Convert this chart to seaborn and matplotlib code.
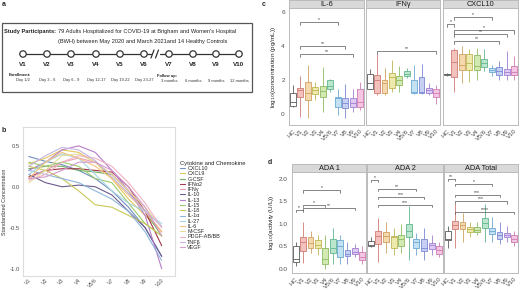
import numpy as np
import pandas as pd
import matplotlib
matplotlib.use("Agg")
import matplotlib.pyplot as plt
import seaborn as sns
from matplotlib.patches import Rectangle, Circle

sns.set_theme(style="white")
plt.rcParams['font.family'] = ['Liberation Sans', 'DejaVu Sans']

# ---------------- data ----------------
visits_b = ["V1", "V2", "V3", "V4", "V5/6", "V7", "V8", "V9", "V10"]
cytokines = ["CXCL10", "CXCL9", "G-CSF", "IFNα2", "IFNγ", "IL-10", "IL-13", "IL-15",
             "IL-18", "IL-1α", "IL-27", "IL-6", "M-CSF", "PDGF-AB/BB", "TNFβ", "VEGF"]
cyto_colors = ["#6F8FBF", "#E3C65C", "#6FAF5F", "#A3374B", "#E79FB4", "#6B5B8C", "#B77CC9",
               "#9ACB6B", "#C9C85A", "#8CB5DB", "#A6D5E0", "#F2C27E", "#E6DC9A", "#F0B3C3",
               "#C4B5E3", "#D59BCF"]
cxcl10_b = [0.37, 0.31, 0.27, 0.20, 0.10, -0.05, -0.25, -0.50, -0.85]
cxcl9_b = [0.28, 0.35, 0.45, 0.42, 0.30, 0.10, -0.15, -0.35, -0.55]
gcsf_b = [0.22, 0.25, 0.25, 0.20, 0.18, 0.15, -0.05, -0.30, -0.60]
ifna2_b = [0.12, 0.20, 0.22, 0.22, 0.20, 0.18, 0.00, -0.30, -0.72]
ifng_b = [0.10, 0.20, 0.30, 0.35, 0.30, 0.15, -0.05, -0.30, -0.55]
il10_b = [0.15, 0.05, 0.00, 0.02, 0.00, -0.10, -0.30, -0.50, -0.85]
il13_b = [0.20, 0.30, 0.45, 0.50, 0.42, 0.20, -0.05, -0.35, -1.00]
il15_b = [0.30, 0.25, 0.30, 0.25, 0.10, 0.05, -0.20, -0.45, -0.60]
il18_b = [0.25, 0.20, 0.10, -0.05, -0.22, -0.25, -0.35, -0.45, -0.60]
il1a_b = [0.20, 0.15, 0.10, 0.05, -0.05, -0.15, -0.30, -0.55, -0.90]
il27_b = [0.15, 0.30, 0.40, 0.35, 0.15, -0.05, -0.20, -0.30, -0.45]
il6_b = [0.10, 0.30, 0.42, 0.35, 0.25, 0.10, -0.10, -0.30, -0.55]
mcsf_b = [0.05, 0.20, 0.38, 0.40, 0.30, 0.15, -0.05, -0.25, -0.50]
pdgf_b = [0.08, 0.15, 0.30, 0.38, 0.35, 0.25, 0.05, -0.20, -0.50]
tnfb_b = [0.25, 0.38, 0.48, 0.45, 0.32, 0.12, -0.08, -0.30, -0.48]
vegf_b = [0.10, 0.12, 0.20, 0.30, 0.30, 0.20, 0.00, -0.25, -0.60]
series_b = [cxcl10_b, cxcl9_b, gcsf_b, ifna2_b, ifng_b, il10_b, il13_b, il15_b, il18_b,
            il1a_b, il27_b, il6_b, mcsf_b, pdgf_b, tnfb_b, vegf_b]

groups = ["HC", "V1", "V2", "V3", "V4", "V5/6", "V7", "V8", "V9", "V10"]
fills = ["#FFFFFF", "#F4C2BC", "#F5D9AE", "#EEEAAE", "#D2EAB2", "#B9E6CD",
         "#C3E1F3", "#C7D0F3", "#DDCBF3", "#F4C6E2"]
edges = ["#5A5A5A", "#CF7A72", "#CFA060", "#BDB553", "#8DBA60", "#62B58E",
         "#6BA8D3", "#7A88D2", "#A07FD2", "#D07AB2"]

# five-number summaries per group: [low whisker, Q1, median, Q3, high whisker]
il6_c = [[0.42, 0.47, 0.72, 1.2, 1.7], [-0.2, 1.0, 1.4, 1.55, 2.2], [-0.25, 0.81, 1.2, 1.88, 2.85],
         [0.8, 1.16, 1.4, 1.59, 1.88], [0.14, 1.0, 1.34, 1.63, 2.76], [1.3, 1.44, 1.63, 1.98, 2.08],
         [-0.06, 0.39, 0.95, 1.01, 1.49], [-0.25, 0.33, 0.62, 0.91, 1.78], [0.14, 0.43, 0.66, 0.91, 1.49],
         [0.23, 0.43, 0.72, 1.49, 1.88]]
ifng_c = [[1.44, 1.49, 1.84, 2.33, 2.66], [1.1, 1.2, 1.98, 2.27, 3.5], [1.1, 1.2, 1.79, 2.02, 2.7],
          [1.3, 1.55, 2.14, 2.41, 3.14], [1.3, 1.69, 1.98, 2.21, 2.8], [2.1, 2.21, 2.37, 2.5, 2.7],
          [1.15, 1.2, 1.3, 1.98, 2.85], [1.15, 1.2, 1.3, 2.14, 2.95], [1.1, 1.2, 1.4, 1.55, 1.8],
          [0.6, 1.01, 1.2, 1.49, 1.7]]
cxcl10_c = [[2.25, 2.3, 2.33, 2.36, 2.4], [1.3, 2.17, 3.05, 3.77, 3.9], [1.8, 2.56, 2.85, 3.53, 4.0],
            [1.9, 2.56, 2.99, 3.53, 3.8], [2.0, 2.6, 2.8, 3.47, 3.9], [2.5, 2.76, 2.99, 3.24, 3.8],
            [2.2, 2.47, 2.56, 2.70, 2.85], [2.0, 2.27, 2.5, 2.76, 3.1], [2.0, 2.3, 2.45, 2.66, 3.7],
            [2.0, 2.27, 2.45, 2.8, 3.4]]
ada1_d = [[0.05, 0.15, 0.22, 0.5, 0.6], [0.12, 0.4, 0.6, 0.7, 1.05], [0.35, 0.47, 0.58, 0.7, 0.85],
          [0.3, 0.47, 0.53, 0.63, 0.75], [0.0, 0.1, 0.22, 0.47, 0.75], [0.1, 0.35, 0.47, 0.65, 0.9],
          [0.1, 0.25, 0.5, 0.63, 0.75], [0.1, 0.28, 0.33, 0.42, 0.6], [0.25, 0.33, 0.38, 0.45, 0.55],
          [0.1, 0.18, 0.26, 0.36, 0.5]]
ada2_d = [[0.48, 0.5, 0.52, 0.62, 0.7], [0.15, 0.56, 0.72, 0.85, 1.12], [0.35, 0.6, 0.72, 0.82, 1.05],
          [0.3, 0.47, 0.7, 0.73, 0.9], [0.35, 0.5, 0.65, 0.75, 1.0], [0.2, 0.7, 0.85, 1.0, 1.4],
          [0.3, 0.47, 0.6, 0.67, 0.8], [0.2, 0.4, 0.46, 0.66, 0.9], [0.3, 0.43, 0.52, 0.58, 0.75],
          [0.25, 0.33, 0.41, 0.5, 0.6]]
adat_d = [[0.45, 0.63, 0.67, 0.85, 0.95], [0.45, 0.88, 0.98, 1.07, 1.45], [0.6, 0.88, 0.98, 1.05, 1.25],
          [0.7, 0.82, 0.88, 0.94, 1.05], [0.75, 0.82, 0.86, 0.93, 1.05], [0.6, 0.9, 1.01, 1.12, 1.45],
          [0.6, 0.77, 0.85, 0.9, 1.15], [0.55, 0.67, 0.75, 0.82, 1.05], [0.6, 0.7, 0.75, 0.8, 0.95],
          [0.5, 0.6, 0.66, 0.75, 0.85]]

il6_br = [("V1", "V7", 5.4, "*"), ("V1", "V8", 4.0, "**"), ("V1", "V9", 3.5, "**")]
ifng_br = [("V1", "V10", 3.7, "**")]
cxcl10_br = [("V1", "V7", 5.7, "*"), ("HC", "V1", 5.3, "*"), ("V1", "V10", 4.9, "*"),
             ("V1", "V9", 4.7, "**"), ("V1", "V8", 4.3, "**")]
ada1_br = [("V1", "V7", 1.75, "*"), ("V1", "V4", 1.42, "*"), ("HC", "V1", 1.31, "*"), ("V1", "V9", 1.35, "**")]
ada2_br = [("HC", "V1", 1.98, "*"), ("V1", "V7", 1.78, "**"), ("V1", "V8", 1.61, "***"), ("V1", "V9", 1.42, "***")]
adat_br = [("HC", "V1", 2.0, "**"), ("V1", "V7", 1.9, "*"), ("V1", "V8", 1.65, "***"),
           ("V1", "V9", 1.5, "***"), ("V1", "V10", 1.26, "****")]

# timeline (panel a)
tl_visits = ["V1", "V2", "V3", "V4", "V5", "V6", "V7", "V8", "V9", "V10"]
tl_days = ["Day 1/2", "Day 3 - 6", "Day 6 - 9", "Day 12-17", "Day 19-22", "Day 23-27",
           "3 months", "6 months", "9 months", "12 months"]

# ---------------- figure ----------------
W, H = 520, 290
fig = plt.figure(figsize=(5.2, 2.9), dpi=100)

def ax_px(x0, y0, x1, y1):
    return fig.add_axes([x0 / W, 1 - y1 / H, (x1 - x0) / W, (y1 - y0) / H])

# overlay for panel a and letters
ov = fig.add_axes([0, 0, 1, 1])
ov.set_xlim(0, W)
ov.set_ylim(H, 0)
ov.axis("off")
for lab, (x, y) in zip("abcd", [(2, 5), (2, 131), (262, 4), (268, 163)]):
    ov.text(x, y, lab, fontsize=5, fontweight="bold", va="center", ha="left")

ov.add_patch(Rectangle((2, 23), 250, 69, fill=False, ec="#555555", lw=0.9))
ov.text(4, 32, "Study Participants:", fontsize=4.1, fontweight="bold", va="center", ha="left", color="#222")
ov.text(58.5, 32, "79 Adults Hospitalized for COVID-19 at Brigham and Women's Hospital",
        fontsize=4.1, va="center", ha="left", color="#222")
ov.text(58.5, 41, "(BWH) between May 2020 and March 2021and 14 Healthy Controls",
        fontsize=4.1, va="center", ha="left", color="#222")
tl_x = [23, 47, 71, 96, 120, 144, 169, 193, 216, 239]
ty = 54
ov.plot([tl_x[0], 151], [ty, ty], color="#333", lw=0.9, zorder=1)
ov.plot([160, tl_x[-1]], [ty, ty], color="#333", lw=0.9, zorder=1)
for sx in (152.5, 157):
    ov.plot([sx - 1.5, sx + 1.5], [ty + 4, ty - 4], color="#333", lw=0.9)
for x, v, d in zip(tl_x, tl_visits, tl_days):
    ov.add_patch(Circle((x, ty), 3.2, fc="white", ec="#333", lw=0.9, zorder=3))
    ov.text(x, 65, v, fontsize=4.5, fontweight="bold", ha="center", va="center", color="#222")
    ov.text(x, 80.5, d, fontsize=2.9, ha="center", va="center", color="#333")
ov.text(9, 75.5, "Enrollment:", fontsize=2.9, fontweight="bold", ha="left", va="center", color="#222")
ov.text(157, 75.5, "Follow up:", fontsize=2.9, fontweight="bold", ha="left", va="center", color="#222")

# ---------------- panel b ----------------
axb = ax_px(23, 127, 175, 276)
rows = []
for name, vals in zip(cytokines, series_b):
    for i, (v, val) in enumerate(zip(visits_b, vals)):
        rows.append({"Cytokine": name, "visit": v, "pos": i, "value": val})
dfb = pd.DataFrame(rows)
sns.lineplot(data=dfb, x="pos", y="value", hue="Cytokine", hue_order=cytokines,
             palette=cyto_colors, linewidth=0.8, ax=axb)
axb.set_xlim(-0.35, 8.8)
axb.set_ylim(-1.09, 0.73)
axb.set_xticks(range(len(visits_b)))
axb.set_xticklabels(visits_b, rotation=45, ha="right", rotation_mode="anchor")
axb.set_yticks([-1.0, -0.5, 0.0, 0.5])
axb.set_yticklabels(["-1.0", "-0.5", "0.0", "0.5"])
axb.tick_params(labelsize=4.2, colors="#4D4D4D", length=0, pad=2)
axb.tick_params(axis="x", labelsize=3.8, pad=1)
axb.set_xlabel("")
axb.set_ylabel("Standardized Concentration", fontsize=3.8, color="#333", labelpad=2)
for s in axb.spines.values():
    s.set_color("#DDDDDD")
    s.set_linewidth(0.8)
h, l = axb.get_legend_handles_labels()
axb.legend(h, l, title="Cytokine and Chemokine", loc="upper left",
           bbox_to_anchor=(177 / W, 1 - 158 / H), bbox_transform=fig.transFigure,
           frameon=False, fontsize=3.9, title_fontsize=4.2, handlelength=0.9,
           handletextpad=0.5, labelspacing=0.05, borderpad=0, alignment="left")

# ---------------- panels c & d ----------------
def facet_row(names, datasets, brackets, xedges, y0, y1, strip_h, ylim, yticks, yticklabels, ylabel, tick_h):
    for k, (name, data, br) in enumerate(zip(names, datasets, brackets)):
        x0, x1 = xedges[k]
        ax = ax_px(x0, y0, x1, y1)
        for g, vals, fc, ec in zip(groups, data, fills, edges):
            d = pd.DataFrame({"group": [g] * len(vals), "value": vals})
            sns.boxplot(data=d, x="group", y="value", order=groups, color=fc, linecolor=ec,
                        saturation=1, linewidth=0.6, width=0.8, whis=(0, 100),
                        showcaps=False, fliersize=0, ax=ax)
        for g1, g2, yv, lab in br:
            i1, i2 = groups.index(g1), groups.index(g2)
            ax.plot([i1, i1, i2, i2], [yv - tick_h, yv, yv, yv - tick_h], color="#555555", lw=0.5)
            ax.text((i1 + i2) / 2, yv, lab, ha="center", va="bottom", fontsize=3.6, color="#333")
        ax.set_xlim(-0.5, 9.5)
        ax.set_ylim(*ylim)
        ax.set_xticks(range(len(groups)))
        ax.set_xticklabels(groups, rotation=45, ha="right", rotation_mode="anchor")
        ax.set_yticks(yticks)
        ax.set_xlabel("")
        if k == 0:
            ax.set_yticklabels(yticklabels)
            ax.set_ylabel(ylabel, fontsize=4.6, color="#222", labelpad=2)
        else:
            ax.set_yticklabels([])
            ax.set_ylabel("")
        ax.tick_params(labelsize=4.6, colors="#4D4D4D", length=1.5, width=0.4, pad=1.5)
        ax.tick_params(axis="x", pad=1)
        for s in ax.spines.values():
            s.set_color("#BBBBBB")
            s.set_linewidth(0.7)
        sax = ax_px(x0, y0 - strip_h, x1, y0)
        sax.set_facecolor("#D9D9D9")
        sax.set_xticks([])
        sax.set_yticks([])
        for s in sax.spines.values():
            s.set_color("#BBBBBB")
            s.set_linewidth(0.7)
        sax.text(0.5, 0.5, name, ha="center", va="center", fontsize=5.3, color="#1A1A1A",
                 transform=sax.transAxes)

facet_row(["IL-6", "IFNγ", "CXCL10"], [il6_c, ifng_c, cxcl10_c], [il6_br, ifng_br, cxcl10_br],
          [(289, 364), (366, 440), (443, 518)], 8, 125, 8, (-0.65, 6.22),
          [0, 2, 4, 6], ["0", "2", "4", "6"], r"log$_{10}$(concentration (pg/mL))", 0.18)
facet_row(["ADA 1", "ADA 2", "ADA Total"], [ada1_d, ada2_d, adat_d], [ada1_br, ada2_br, adat_br],
          [(292, 366), (367, 443), (444, 518)], 172, 273, 8, (-0.1, 2.16),
          [0.0, 0.5, 1.0, 1.5, 2.0], ["0.0", "0.5", "1.0", "1.5", "2.0"],
          r"log$_{10}$(activity (U/L))", 0.05)

fig.savefig("out.png", dpi=100)
